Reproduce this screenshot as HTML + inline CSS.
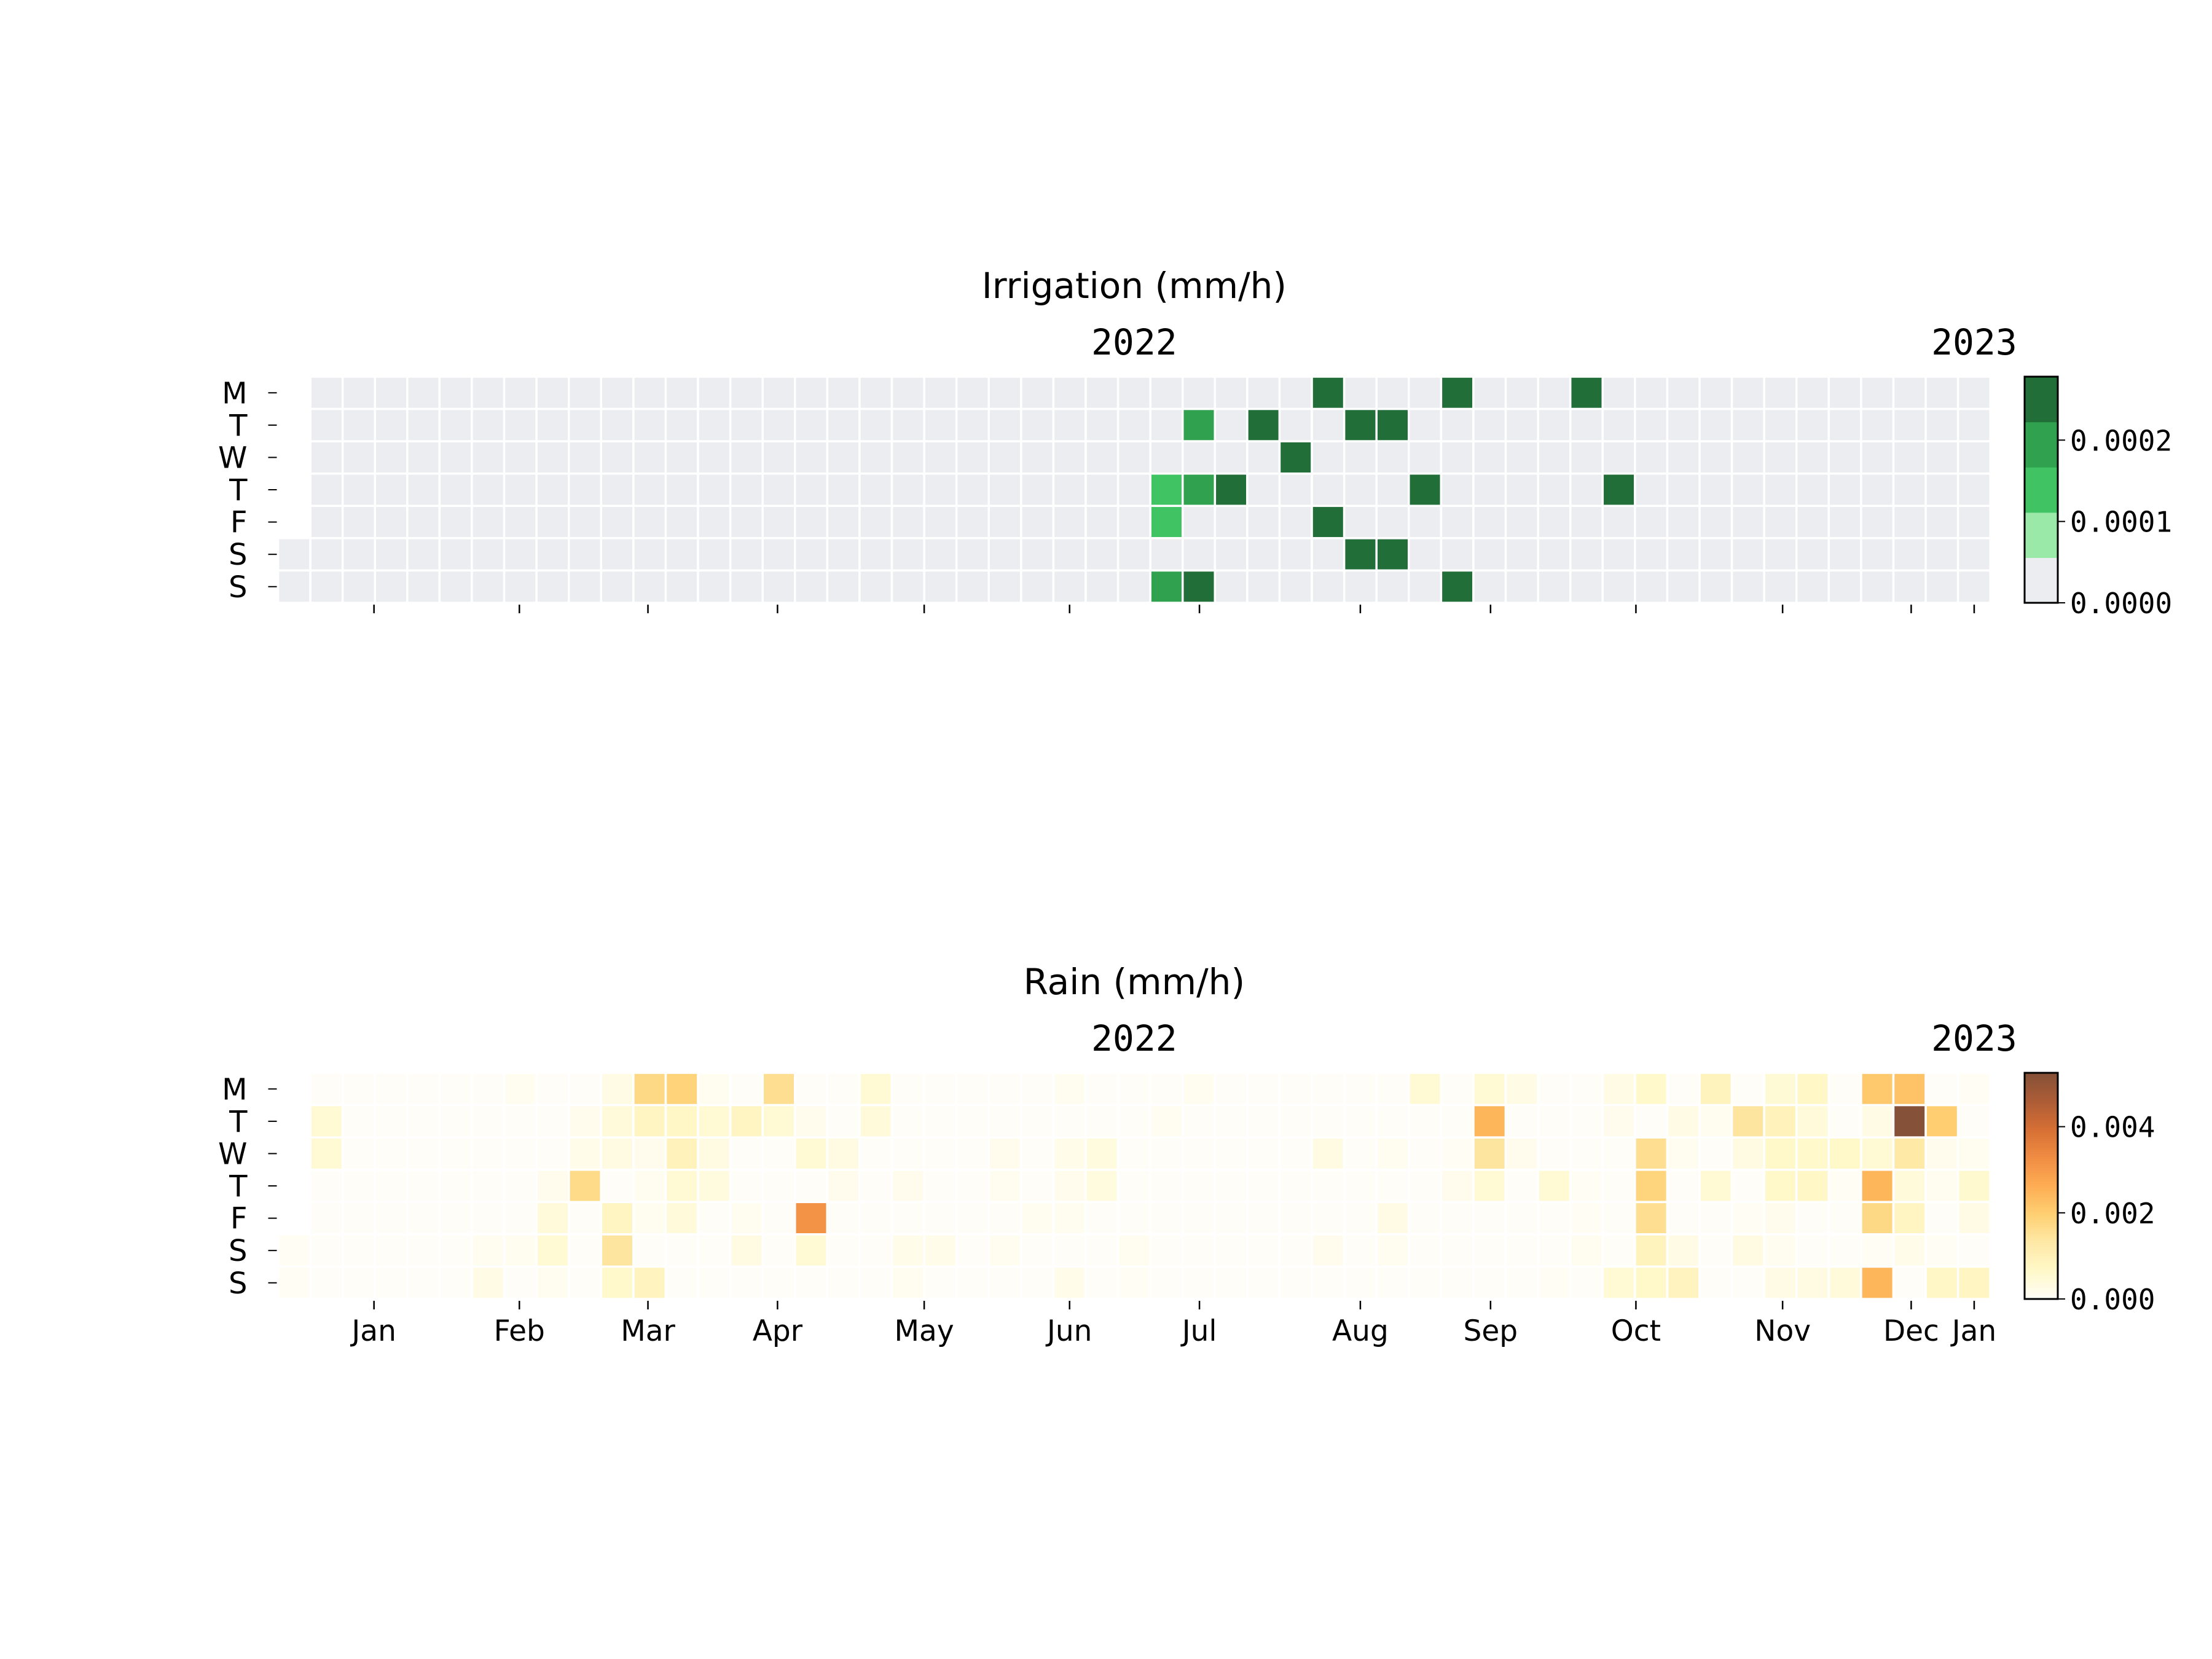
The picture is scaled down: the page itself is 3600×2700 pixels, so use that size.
<!DOCTYPE html>
<html><head><meta charset="utf-8"><style>
html,body{margin:0;padding:0;background:#fff;}
svg{display:block;}
text{font-family:"DejaVu Sans","Liberation Sans",sans-serif;fill:#000;}
.mono{font-family:"DejaVu Sans Mono","Liberation Mono",monospace;}
</style></head><body>
<svg id="fig" width="3600" height="2700" viewBox="0 0 3600 2700" xmlns="http://www.w3.org/2000/svg"></svg>
<script>
// ---- data ----
const dayLabels = ["M","T","W","T","F","S","S"];
const monthLabels = ["Jan","Feb","Mar","Apr","May","Jun","Jul","Aug","Sep","Oct","Nov","Dec","Jan"];
const monthTickWeeks = [2.97,7.47,11.45,15.46,20.0,24.5,28.52,33.5,37.53,42.03,46.57,50.55,52.5];
const yearLabels = ["2022","2023"];
const yearWeeks = [26.5,52.5];
// irrigation events: [week, weekday, value mm/h]
const irrigWeeks = [32,36,40, 28,30,33,34, 31, 27,28,29,35,41, 27,32, 33,34, 27,28,36];
const irrigDays  = [0,0,0, 1,1,1,1, 2, 3,3,3,3,3, 4,4, 5,5, 6,6,6];
const irrigVals  = [0.00026,0.00026,0.00026, 0.0002,0.00026,0.00026,0.00026, 0.00026, 0.00014,0.0002,0.00026,0.00026,0.00026, 0.00014,0.00026, 0.00026,0.00026, 0.0002,0.00026,0.00026];
const irrigTicks = ["0.0000","0.0001","0.0002"];
const irrigTickVals = [0,0.0001,0.0002];
const irrigMax = 0.000278;
// rain: fraction of max (max = 0.00525) per weekday row, sparse [week, frac]
const rainMax = 0.00525;
const rainMon = [[7,.02],[10,.05],[11,.33],[12,.36],[13,.02],[15,.3],[18,.1],[24,.02],[28,.02],[35,.1],[37,.1],[38,.05],[41,.05],[42,.12],[44,.17],[46,.09],[47,.14],[49,.4],[50,.42],[52,.01]];
const rainTue = [[1,.1],[9,.03],[10,.08],[11,.15],[12,.14],[13,.1],[14,.15],[15,.1],[16,.03],[18,.08],[27,.015],[37,.47],[41,.03],[43,.05],[44,.02],[45,.27],[46,.18],[47,.08],[49,.05],[50,1.0],[51,.38]];
const rainWed = [[1,.1],[9,.04],[10,.06],[11,.03],[12,.18],[13,.06],[16,.1],[17,.06],[22,.03],[24,.04],[25,.07],[32,.06],[34,.02],[36,.01],[37,.27],[38,.03],[42,.3],[43,.02],[45,.06],[46,.13],[47,.12],[48,.13],[49,.1],[50,.25],[51,.03],[52,.02]];
const rainThu = [[8,.03],[9,.32],[11,.02],[12,.1],[13,.07],[17,.03],[19,.03],[22,.02],[24,.03],[25,.07],[36,.03],[37,.1],[39,.1],[40,.01],[42,.35],[44,.1],[46,.13],[47,.14],[48,.01],[49,.47],[50,.08],[51,.02],[52,.11]];
const rainFri = [[8,.08],[10,.15],[11,.02],[12,.08],[14,.02],[16,.6],[23,.02],[24,.02],[34,.05],[40,.01],[42,.3],[45,.01],[46,.03],[49,.33],[50,.15],[52,.05]];
const rainSat = [[0,.01],[6,.02],[7,.02],[8,.1],[10,.27],[14,.06],[16,.1],[19,.04],[20,.04],[22,.02],[26,.02],[32,.03],[34,.02],[40,.02],[42,.17],[43,.05],[45,.06],[46,.02],[49,.01],[50,.04],[51,.01]];
const rainSun = [[0,.01],[6,.05],[8,.02],[10,.12],[11,.16],[19,.02],[24,.04],[26,.01],[39,.01],[41,.1],[42,.13],[43,.16],[46,.05],[47,.06],[48,.08],[49,.47],[51,.14],[52,.15]];
const rainTicks = ["0.000","0.002","0.004"];
const rainTickVals = [0,0.002,0.004];

// ---- layout ----
const NS="http://www.w3.org/2000/svg";
const svg=document.getElementById('fig');
const X0=452.5, CW=52.58, NW=53;
const CX=(X0+X0+NW*CW)/2;
function mk(tag,attrs,parent){const e=document.createElementNS(NS,tag);for(const k in attrs)e.setAttribute(k,attrs[k]);(parent||svg).appendChild(e);return e;}
function xW(w){return X0+w*CW;}
function yD(top,d){return top+d*CW;}

const greens=["#ebedf0","#9be9a8","#40c463","#30a14e","#216e39"];
function irrigColor(v){let b=Math.floor(v/irrigMax*5);if(b>4)b=4;if(b<0)b=0;return greens[b];}
const ylorbr=[[255,253,246],[255,247,188],[254,227,145],[254,196,79],[254,153,41],[236,112,20],[204,76,2],[153,52,4],[102,37,6]];
function rainColor(v){let t=Math.max(0,Math.min(1,v/rainMax))*8;let i=Math.min(7,Math.floor(t));let f=t-i;const a=ylorbr[i],b=ylorbr[i+1];
 const c=a.map((x,k)=>Math.round((x+(b[k]-x)*f)*0.8+255*0.2));return `rgb(${c[0]},${c[1]},${c[2]})`;}

function dayExists(w,d){ if(w===0) return d>=5; return true; }

function drawPanel(opts){
  const g=mk('g',{});
  
  
  const top=opts.top;
  const t=mk('text',{x:CX,y:top-128,'font-size':58,'text-anchor':'middle'},g);
  t.textContent=opts.title;
  
  
  yearLabels.forEach((yl,i)=>{
    const e=mk('text',{x:xW(yearWeeks[i]),y:top-36,'font-size':58,'text-anchor':'middle',class:'mono'},g);
    e.textContent=yl;
    
    
  });
  for(let w=0;w<NW;w++)for(let d=0;d<7;d++){
    if(!dayExists(w,d))continue;
    const v=opts.value(w,d);
    const r=mk('rect',{x:xW(w),y:yD(top,d),width:CW,height:CW,fill:opts.color(v),stroke:'#fff','stroke-width':3.5},g);
    
    
  }
  dayLabels.forEach((dl,d)=>{
    const yc=yD(top,d)+CW/2;
    mk('line',{x1:X0-16,x2:X0-2,y1:yc,y2:yc,stroke:'#000','stroke-width':2},g);
    const e=mk('text',{x:X0-50,y:yc+17,'font-size':48,'text-anchor':'end'},g);
    e.textContent=dl;
    
    
  });
  const bot=yD(top,7);
  monthTickWeeks.forEach((mw,i)=>{
    const x=xW(mw);
    mk('line',{x1:x,x2:x,y1:bot+3,y2:bot+17,stroke:'#000','stroke-width':2.5},g);
    if(opts.monthLabels){
      const e=mk('text',{x:x,y:bot+68,'font-size':47,'text-anchor':'middle'},g);
      e.textContent=monthLabels[i];
      
      
    }
  });
  const cb=mk('g',{},g);
  
  
  const cx=3295,cw=54,ch=CW*7;
  const N=100;
  for(let i=0;i<N;i++){
    const v=opts.cbMax*(i+0.5)/N;
    mk('rect',{x:cx,y:top+ch-(i+1)*ch/N,width:cw,height:ch/N+0.6,fill:opts.color(v)},cb);
  }
  mk('rect',{x:cx,y:top,width:cw,height:ch,fill:'none',stroke:'#000','stroke-width':3},cb);
  opts.ticks.forEach((tl,i)=>{
    const y=top+ch-opts.tickVals[i]/opts.cbMax*ch;
    mk('line',{x1:cx+cw,x2:cx+cw+12,y1:y,y2:y,stroke:'#000','stroke-width':2},cb);
    const e=mk('text',{x:cx+cw+20,y:y+17,'font-size':46,class:'mono'},cb);
    e.textContent=tl;
    
    
  });
}

function irrigValue(w,d){for(let i=0;i<irrigWeeks.length;i++)if(irrigWeeks[i]===w&&irrigDays[i]===d)return irrigVals[i];return 0;}
const rainRows=[rainMon,rainTue,rainWed,rainThu,rainFri,rainSat,rainSun];
function rainValue(w,d){for(const p of rainRows[d])if(p[0]===w)return p[1]*rainMax;return 0;}

drawPanel({name:'irrigation-panel',title:'Irrigation (mm/h)',top:613,value:irrigValue,color:irrigColor,cbMax:irrigMax,ticks:irrigTicks,tickVals:irrigTickVals,monthLabels:false});
drawPanel({name:'rain-panel',title:'Rain (mm/h)',top:1746,value:rainValue,color:rainColor,cbMax:rainMax,ticks:rainTicks,tickVals:rainTickVals,monthLabels:true});
</script>
</body></html>
